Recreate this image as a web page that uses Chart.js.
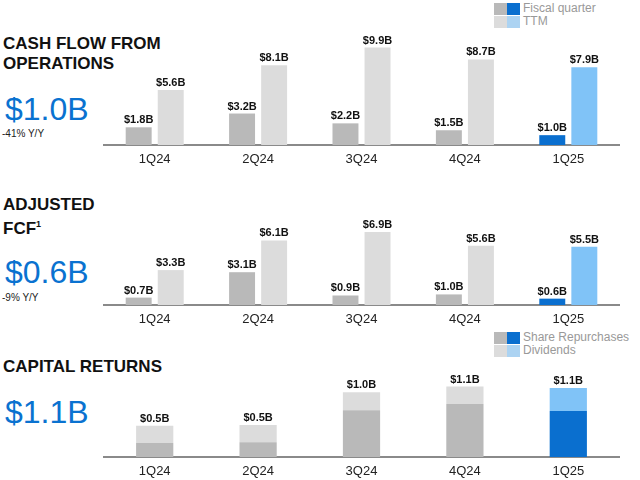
<!DOCTYPE html>
<html>
<head>
<meta charset="utf-8">
<script src="https://cdn.jsdelivr.net/npm/chart.js@4.4.1/dist/chart.umd.min.js"></script>
<style>
    body { margin: 0; width: 640px; height: 480px; background: #fff; position: relative; overflow: hidden;
           font-family: "Liberation Sans", Arial, sans-serif; }
    .abs { position: absolute; white-space: nowrap; }
    .head { font-weight: bold; font-size: 17px; line-height: 20px; color: #111; left: 3px; }
    .big { font-size: 32px; line-height: 32px; color: #0a72d0; left: 5px; }
    .yy { font-size: 10px; line-height: 12px; color: #222; left: 2px; }
    .legend { font-size: 12px; line-height: 13px; color: #999; }
    .sw { position: absolute; width: 13px; height: 12px; }
    canvas { position: absolute; }
</style>
</head>
<body>
<div class="abs head" style="top:34px">CASH FLOW FROM<br>OPERATIONS</div>
<div class="abs big" style="top:93px">$1.0B</div>
<div class="abs yy" style="top:128px">-41% Y/Y</div>

<div class="abs head" style="top:193px;line-height:24px">ADJUSTED<br>FCF<sup style="font-size:9px;vertical-align:7px;line-height:0">1</sup></div>
<div class="abs big" style="top:256px">$0.6B</div>
<div class="abs yy" style="top:292px">-9% Y/Y</div>

<div class="abs head" style="top:357px">CAPITAL RETURNS</div>
<div class="abs big" style="top:396px">$1.1B</div>

<div id="legend1"></div>
<div id="legend3"></div>

<canvas id="cfoChart"></canvas>
<canvas id="fcfChart"></canvas>
<canvas id="capChart"></canvas>

<script>
const quarters = ["1Q24", "2Q24", "3Q24", "4Q24", "1Q25"];

// cash flow from operations ($B)
const cfoQuarter = [1.8, 3.2, 2.2, 1.5, 1.0];
const cfoTTM = [5.6, 8.1, 9.9, 8.7, 7.9];

// adjusted free cash flow ($B)
const fcfQuarter = [0.7, 3.1, 0.9, 1.0, 0.6];
const fcfTTM = [3.3, 6.1, 6.9, 5.6, 5.5];

// capital returns ($B)
const repurchases = [0.22, 0.23, 0.73, 0.83, 0.72];
const dividends = [0.27, 0.27, 0.28, 0.27, 0.36];
const capTotalLabels = ["$0.5B", "$0.5B", "$1.0B", "$1.1B", "$1.1B"];

const GRAY_Q = "#b9b9b9", GRAY_T = "#dcdcdc", BLUE_Q = "#0a6fcf", BLUE_T = "#80c3f7", BLUE_LEG = "#acd3f2";
const FONT = "'Liberation Sans', Arial, sans-serif";
const AXIS_H = 30;

function colorsFor(arr, gray, blue) {
    return arr.map((v, i) => i === arr.length - 1 ? blue : gray);
}

function makeLegend(id, top, rows) {
    const el = document.getElementById(id);
    rows.forEach((r, i) => {
        const y = top + i * 13;
        el.innerHTML += `<div class="sw" style="left:494px;top:${y}px;background:${r.gray}"></div>
            <div class="sw" style="left:507px;top:${y}px;background:${r.blue}"></div>
            <div class="abs legend" style="left:523px;top:${y - 1}px">${r.text}</div>`;
    });
}
makeLegend("legend1", 3, [
    { gray: GRAY_Q, blue: BLUE_Q, text: "Fiscal quarter" },
    { gray: GRAY_T, blue: BLUE_LEG, text: "TTM" }
]);
makeLegend("legend3", 332, [
    { gray: GRAY_Q, blue: BLUE_Q, text: "Share Repurchases" },
    { gray: GRAY_T, blue: BLUE_LEG, text: "Dividends" }
]);

// draws value text above bars
const valueLabels = {
    id: "valueLabels",
    afterDatasetsDraw(chart, args, opts) {
        const ctx = chart.ctx;
        ctx.save();
        ctx.font = "bold 11px " + FONT;
        ctx.fillStyle = "#111";
        ctx.textAlign = "center";
        ctx.textBaseline = "alphabetic";
        if (opts.stackLabels) {
            const meta = chart.getDatasetMeta(chart.data.datasets.length - 1);
            meta.data.forEach((bar, i) => ctx.fillText(opts.stackLabels[i], bar.x, bar.y - 4));
        } else {
            chart.data.datasets.forEach((ds, d) => {
                chart.getDatasetMeta(d).data.forEach((bar, i) => {
                    ctx.fillText("$" + ds.data[i].toFixed(1) + "B", bar.x, bar.y - 4);
                });
            });
        }
        ctx.restore();
    }
};

function placeCanvas(id, top, baseline) {
    const c = document.getElementById(id);
    c.style.left = "103px";
    c.style.top = top + "px";
    c.style.width = "517px";
    c.style.height = (baseline - top + AXIS_H) + "px";
    c.width = 517;
    c.height = baseline - top + AXIS_H;
    return c;
}

function baseOptions(yMax, stacked, extra) {
    return {
        responsive: false,
        animation: false,
        layout: { padding: 0 },
        plugins: { legend: { display: false }, tooltip: { enabled: false }, valueLabels: extra || {} },
        scales: {
            x: {
                stacked: stacked,
                z: 1,
                grid: { display: false, drawTicks: false },
                border: { display: true, color: "#8a8a8a", width: 2 },
                ticks: { color: "#222", font: { family: FONT, size: 13 }, padding: 7 },
                afterFit: s => { s.height = AXIS_H; }
            },
            y: { display: false, stacked: stacked, min: 0, max: yMax }
        }
    };
}

function groupedChart(id, top, baseline, yMax, qData, tData) {
    new Chart(placeCanvas(id, top, baseline), {
        type: "bar",
        data: {
            labels: quarters,
            datasets: [
                { data: qData, backgroundColor: colorsFor(qData, GRAY_Q, BLUE_Q), categoryPercentage: 0.62, barPercentage: 0.81 },
                { data: tData, backgroundColor: colorsFor(tData, GRAY_T, BLUE_T), categoryPercentage: 0.62, barPercentage: 0.81 }
            ]
        },
        options: baseOptions(yMax, false),
        plugins: [valueLabels]
    });
}

groupedChart("cfoChart", 25, 145, 12.2, cfoQuarter, cfoTTM);
groupedChart("fcfChart", 195, 305, 10.4, fcfQuarter, fcfTTM);

new Chart(placeCanvas("capChart", 361, 457), {
    type: "bar",
    data: {
        labels: quarters,
        datasets: [
            { data: repurchases, backgroundColor: colorsFor(repurchases, GRAY_Q, BLUE_Q), categoryPercentage: 0.4, barPercentage: 0.9 },
            { data: dividends, backgroundColor: colorsFor(dividends, GRAY_T, BLUE_T), categoryPercentage: 0.4, barPercentage: 0.9 }
        ]
    },
    options: baseOptions(1.5, true, { stackLabels: capTotalLabels }),
    plugins: [valueLabels]
});
</script>
</body>
</html>
